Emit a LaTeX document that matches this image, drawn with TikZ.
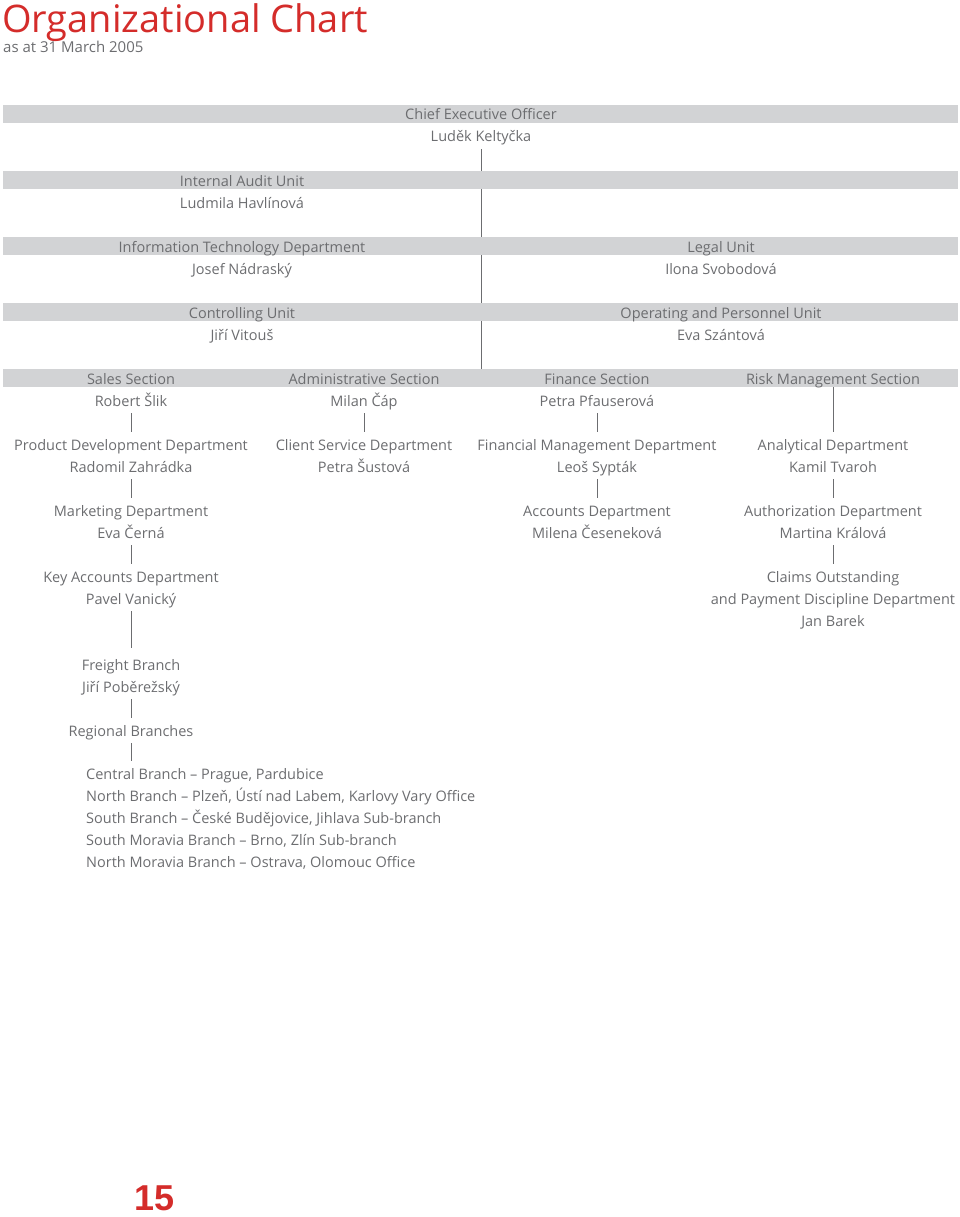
\documentclass[tikz,border=0pt]{standalone}
\usepackage{fontspec}
\setmainfont{Open Sans}
\newfontfamily\pagefont{Liberation Sans}
\usetikzlibrary{backgrounds}
\definecolor{chartgray}{RGB}{108,109,112}
\definecolor{bargray}{RGB}{210,211,213}
\definecolor{chartred}{RGB}{212,44,42}

\begin{document}
\begin{tikzpicture}[x=1pt,y=-1pt,
	every node/.style={text=chartgray,font=\fontsize{14.5}{22}\selectfont},
	txt/.style={anchor=base,text height=10.5pt,text depth=3.5pt,inner xsep=0pt,inner ysep=3.5pt},
	item/.style={txt,anchor=base west},
	bar/.style={fill=bargray,minimum width=955pt,minimum height=18pt,inner sep=0pt},
	link/.style={draw=chartgray,line width=0.9pt,shorten >=4pt}]
\useasboundingbox (0,0) rectangle (960,1217);
\node[anchor=base west,inner sep=0pt,text=chartred,font=\fontsize{38}{38}\selectfont] (title) at (2,33) {Organizational Chart};
\node[anchor=base west,inner sep=0pt,font=\fontsize{15}{16}\selectfont] (date) at (3,53) {as at 31 March 2005};
\node[bar] (ceobar) at (480.5,114) {};
\node[bar] (auditbar) at (480.5,180) {};
\node[bar] (itbar) at (480.5,246) {};
\node[bar] (ctrlbar) at (480.5,312) {};
\node[bar] (secbar) at (480.5,378) {};
\node[txt] (ceoT) at (481,120) {Chief Executive Officer};
\node[txt] (ceoN) at (481,142) {Luděk Keltyčka};
\node[txt] (auditT) at (242,186) {Internal Audit Unit};
\node[txt] (auditN) at (242,208) {Ludmila Havlínová};
\node[txt] (itT) at (242,252) {Information Technology Department};
\node[txt] (itN) at (242,274) {Josef Nádraský};
\node[txt] (legalT) at (721,252) {Legal Unit};
\node[txt] (legalN) at (721,274) {Ilona Svobodová};
\node[txt] (ctrlT) at (242,318) {Controlling Unit};
\node[txt] (ctrlN) at (242,340) {Jiří Vitouš};
\node[txt] (operT) at (721,318) {Operating and Personnel Unit};
\node[txt] (operN) at (721,340) {Eva Szántová};
\node[txt] (salesT) at (131,384) {Sales Section};
\node[txt] (salesN) at (131,406) {Robert Šlik};
\node[txt] (adminT) at (364,384) {Administrative Section};
\node[txt] (adminN) at (364,406) {Milan Čáp};
\node[txt] (finT) at (597,384) {Finance Section};
\node[txt] (finN) at (597,406) {Petra Pfauserová};
\node[txt] (riskT) at (833,384) {Risk Management Section};
\node[txt] (prodT) at (131,450) {Product Development Department};
\node[txt] (prodN) at (131,472) {Radomil Zahrádka};
\node[txt] (clientT) at (364,450) {Client Service Department};
\node[txt] (clientN) at (364,472) {Petra Šustová};
\node[txt] (finmgmtT) at (597,450) {Financial Management Department};
\node[txt] (finmgmtN) at (597,472) {Leoš Sypták};
\node[txt] (analytT) at (833,450) {Analytical Department};
\node[txt] (analytN) at (833,472) {Kamil Tvaroh};
\node[txt] (mktT) at (131,516) {Marketing Department};
\node[txt] (mktN) at (131,538) {Eva Černá};
\node[txt] (accT) at (597,516) {Accounts Department};
\node[txt] (accN) at (597,538) {Milena Česeneková};
\node[txt] (authT) at (833,516) {Authorization Department};
\node[txt] (authN) at (833,538) {Martina Králová};
\node[txt] (keyT) at (131,582) {Key Accounts Department};
\node[txt] (keyN) at (131,604) {Pavel Vanický};
\node[txt] (claimsT) at (833,582) {Claims Outstanding};
\node[txt] (claimsS) at (833,604) {and Payment Discipline Department};
\node[txt] (claimsN) at (833,626) {Jan Barek};
\node[txt] (freightT) at (131,670) {Freight Branch};
\node[txt] (freightN) at (131,692) {Jiří Poběrežský};
\node[txt] (regionalT) at (131,736) {Regional Branches};
\node[item] (branchA) at (86,779) {Central Branch -- Prague, Pardubice};
\node[item] (branchB) at (86,801) {North Branch -- Plzeň, Ústí nad Labem, Karlovy Vary Office};
\node[item] (branchC) at (86,823) {South Branch -- České Budějovice, Jihlava Sub-branch};
\node[item] (branchD) at (86,845) {South Moravia Branch -- Brno, Zlín Sub-branch};
\node[item] (branchE) at (86,867) {North Moravia Branch -- Ostrava, Olomouc Office};
\begin{scope}[on background layer]
	\draw[link,shorten >=0pt] (ceoN) -- (ceoN |- secbar.north);
\end{scope}
\foreach \a/\b in {salesN/prodT,adminN/clientT,finN/finmgmtT,prodN/mktT,finmgmtN/accT,analytN/authT,mktN/keyT,authN/claimsT,freightN/regionalT}
	\draw[link] (\a) -- (\b);
\draw[link,shorten <=-4pt] (riskT) -- (analytT);
\draw[link,shorten >=8pt] (keyN) -- (freightT);
\draw[link] (regionalT) -- (regionalT |- branchA.north);
\node[anchor=base west,inner sep=0pt,text=chartred,font=\pagefont\bfseries\fontsize{36}{36}\selectfont] (page) at (134,1210) {15};
\end{tikzpicture}
\end{document}
